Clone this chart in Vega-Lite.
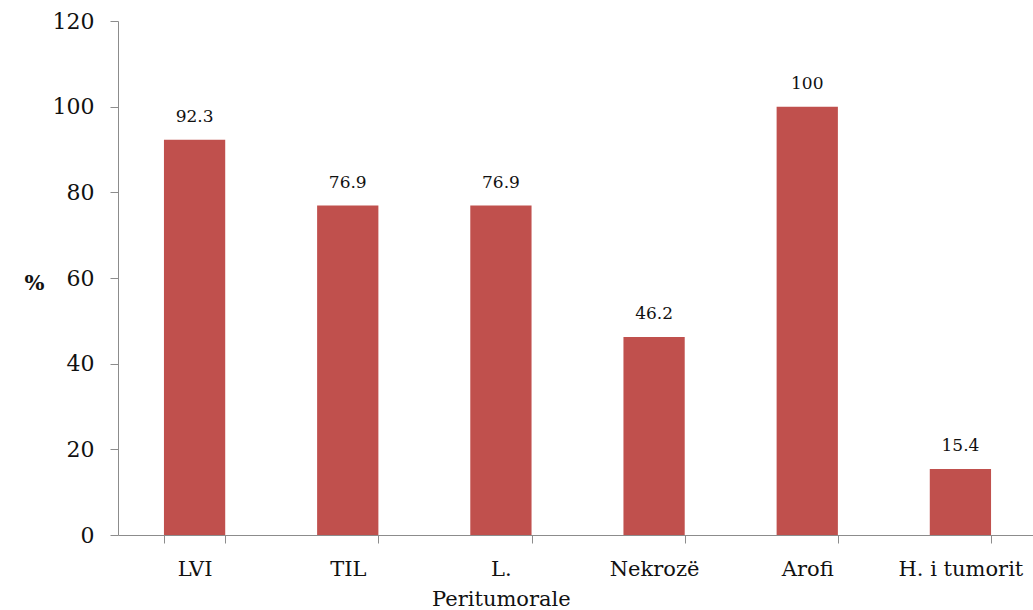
{
  "$schema": "https://vega.github.io/schema/vega-lite/v6.json",
  "width": 919,
  "height": 514,
  "autosize": "none",
  "padding": {"left": 118, "top": 21, "right": 0, "bottom": 75},
  "background": "white",
  "data": {
    "values": [
      {"kategoria": "LVI", "perqindja": 92.3},
      {"kategoria": "TIL", "perqindja": 76.9},
      {"kategoria": "L. Peritumorale", "perqindja": 76.9},
      {"kategoria": "Nekrozë", "perqindja": 46.2},
      {"kategoria": "Arofi", "perqindja": 100},
      {"kategoria": "H. i tumorit", "perqindja": 15.4}
    ]
  },
  "config": {
    "view": {"stroke": null},
    "font": "DejaVu Serif"
  },
  "encoding": {
    "x": {
      "field": "kategoria",
      "type": "nominal",
      "sort": null,
      "scale": {"paddingInner": 0.6, "paddingOuter": 0.3},
      "axis": {
        "title": null,
        "labelAngle": 0,
        "labelFont": "DejaVu Serif",
        "labelFontSize": 21,
        "labelColor": "#111",
        "labelPadding": 15,
        "labelLineHeight": 30,
        "labelExpr": "datum.value == 'L. Peritumorale' ? ['L.', 'Peritumorale'] : datum.value",
        "tickBand": "extent",
        "tickSize": 8,
        "tickColor": "#8c8c8c",
        "domainColor": "#8c8c8c",
        "labelLimit": 200
      }
    },
    "y": {
      "field": "perqindja",
      "type": "quantitative",
      "scale": {"domain": [0, 120], "nice": false},
      "axis": {
        "values": [0, 20, 40, 60, 80, 100, 120],
        "grid": false,
        "title": "%",
        "titleAngle": 0,
        "titleFont": "DejaVu Serif",
        "titleFontSize": 21,
        "titleFontWeight": "bold",
        "titleColor": "#111",
        "titleX": -94,
        "titleY": 262,
        "titleAlign": "left",
        "titleBaseline": "middle",
        "labelFont": "DejaVu Serif",
        "labelFontSize": 22,
        "labelColor": "#111",
        "labelPadding": 16,
        "tickSize": 8,
        "tickColor": "#8c8c8c",
        "domainColor": "#8c8c8c"
      }
    }
  },
  "layer": [
    {"mark": {"type": "bar", "color": "#C0504D"}},
    {
      "mark": {"type": "text", "baseline": "bottom", "dy": -14, "fontSize": 17, "font": "DejaVu Serif", "color": "#111"},
      "encoding": {"text": {"field": "perqindja", "type": "quantitative"}}
    }
  ]
}
